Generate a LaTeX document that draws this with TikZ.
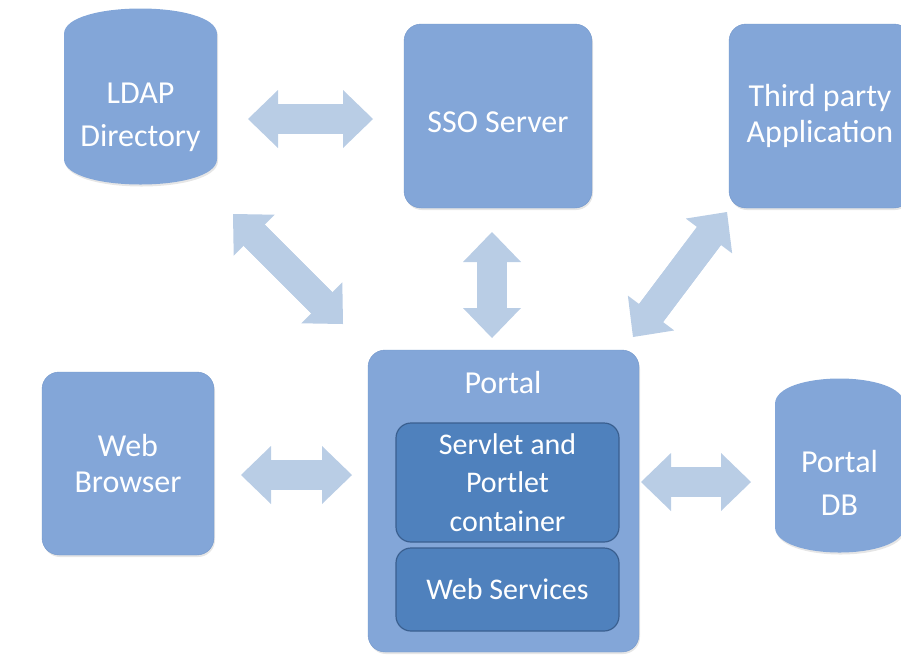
\documentclass[tikz,border=0pt]{standalone}
\usepackage{fontspec}
\setmainfont{Carlito}
\usetikzlibrary{calc,arrows.meta,shadows}

\definecolor{boxfill}{HTML}{83A6D8}
\definecolor{boxedge}{HTML}{7397CB}
\definecolor{innerfill}{HTML}{4F81BD}
\definecolor{inneredge}{HTML}{3A5F8F}
\definecolor{arrowfill}{HTML}{B9CDE5}

\newcommand{\bigtext}{\fontsize{32}{36}\selectfont}
\newcommand{\dbtext}{\fontsize{32}{43}\selectfont}
\newcommand{\innertext}{\fontsize{30}{38.5}\selectfont}

% barrel shaped database body round a named node
\newcommand{\dbbarrel}[1]{%
  \fill[boxfill, drop shadow={shadow xshift=1pt, shadow yshift=-2pt, opacity=0.2}]
    ($(#1.north west)+(0,26)$) .. controls ($(#1.north west)+(0,-8)$) and ($(#1.north east)+(0,-8)$) .. ($(#1.north east)+(0,26)$)
    -- ($(#1.south east)+(0,-26)$) .. controls ($(#1.south east)+(0,8)$) and ($(#1.south west)+(0,8)$) .. ($(#1.south west)+(0,-26)$)
    -- cycle;}

\begin{document}
\begin{tikzpicture}[x=1pt, y=-1pt,
    box/.style     = {draw=boxedge, fill=boxfill, rounded corners=17pt, text=white, font=\bigtext,
                      align=center, inner sep=0pt, outer sep=0pt,
                      drop shadow={shadow xshift=1pt, shadow yshift=-2pt, opacity=0.2}},
    innerbox/.style = {draw=inneredge, line width=1.2pt, fill=innerfill, rounded corners=15pt, text=white,
                      font=\innertext, align=center, inner sep=0pt, outer sep=0pt,
                      minimum width=223pt},
    dbbody/.style  = {inner sep=0pt, outer sep=0pt},
    dblabel/.style = {text=white, font=\dbtext, align=center, inner sep=0pt},
    dblarrow/.style = {draw=arrowfill, line width=30pt,
                      preaction={draw=arrowfill, line width=30pt, arrows=-, shorten <=20pt, shorten >=20pt},
                      arrows={Triangle[length=30pt 0 0, width=58pt 0 0, line width=0pt 0 0]-Triangle[length=30pt 0 0, width=58pt 0 0, line width=0pt 0 0]}}]
    \useasboundingbox (0,0) rectangle (901,665);

    % databases
    \node [dbbody, minimum width=153pt, minimum height=177pt] (ldap) at (140.5,96.5) {};
    \dbbarrel{ldap}
    \node [dblabel] (ldaptext) at ([yshift=-21pt]ldap.center) {LDAP\\Directory};

    \node [dbbody, minimum width=129pt, minimum height=175pt] (db) at (839.5,465.5) {};
    \dbbarrel{db}
    \node [dblabel] (dbtext) at ([yshift=-17pt]db.center) {Portal\\DB};

    % boxes
    \node [box, minimum width=188pt, minimum height=184pt, text height=33pt] (sso) at (498,116) {SSO Server};
    \node [box, minimum width=182pt, minimum height=184pt] (third) at (820,116)   {Third party\\Application};
    \node [box, minimum width=172pt, minimum height=183pt] (web)   at (128,463.5) {Web\\Browser};
    \node [box, minimum width=271pt, minimum height=302pt] (portal) at (503.5,501) {};
    \node [text=white, font=\bigtext, inner sep=0pt] (portaltext) at (503,382) {Portal};
    \node [innerbox, minimum height=119pt] (servlet)  at (507.5,482.5) {Servlet and\\Portlet\\container};
    \node [innerbox, minimum height=83pt]  (services) at (507.5,589.5) {Web Services};

    % connectors
    \draw [dblarrow] ($(ldap.east |- sso.west)+(31,3)$)    -- ($(sso.west)+(-31,3)$);
    \draw [dblarrow] ($(ldap.south east)+(16,29)$)         -- ($(portal.north west)+(-25,-26)$);
    \draw [dblarrow] ($(sso.south)+(-6,24)$)               -- ($(sso.south |- portal.north)+(-6,-12)$);
    \draw [dblarrow] ($(third.south west)+(-2,4)$)         -- ($(portal.north east)+(-6,-13)$);
    \draw [dblarrow] ($(web.east)+(27,11.5)$)              -- ($(web.east -| portal.west)+(-16,11.5)$);
    \draw [dblarrow] ($(portal.east)+(2,-19)$)             -- ($(portal.east -| db.west)+(-24,-19)$);
\end{tikzpicture}
\end{document}
